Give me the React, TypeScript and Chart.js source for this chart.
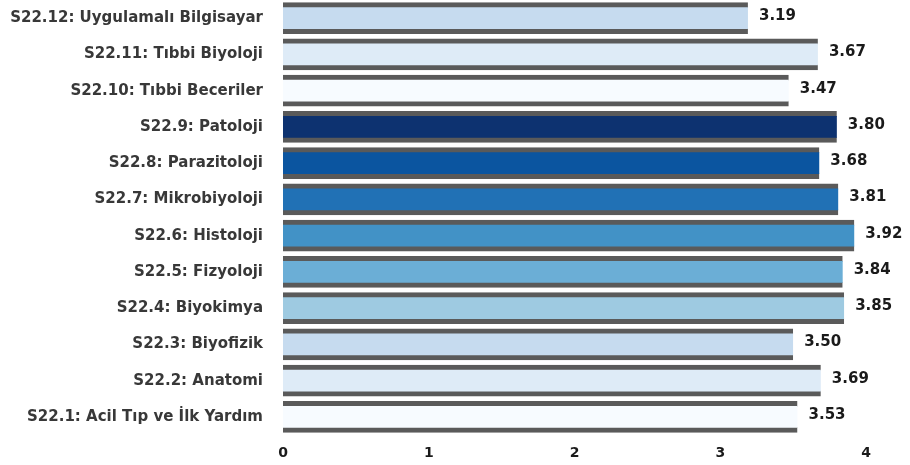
import React, { useEffect, useRef } from "react";
import { Chart, registerables } from "chart.js";

Chart.register(...registerables);

const categories = [
  "S22.12: Uygulamalı Bilgisayar",
  "S22.11: Tıbbi Biyoloji",
  "S22.10: Tıbbi Beceriler",
  "S22.9: Patoloji",
  "S22.8: Parazitoloji",
  "S22.7: Mikrobiyoloji",
  "S22.6: Histoloji",
  "S22.5: Fizyoloji",
  "S22.4: Biyokimya",
  "S22.3: Biyofizik",
  "S22.2: Anatomi",
  "S22.1: Acil Tıp ve İlk Yardım",
];

const values = [3.19, 3.67, 3.47, 3.8, 3.68, 3.81, 3.92, 3.84, 3.85, 3.5, 3.69, 3.53];

const barColors = [
  "#c6dbef",
  "#deebf7",
  "#f7fbff",
  "#0d3270",
  "#0b55a0",
  "#2171b5",
  "#4292c6",
  "#6baed6",
  "#9ecae1",
  "#c6dbef",
  "#deebf7",
  "#f7fbff",
];

const xTicks = [0, 1, 2, 3, 4];

const FONT = "'DejaVu Sans', sans-serif";

const valueLabelPlugin = {
  id: "valueLabels",
  afterDatasetsDraw(chart: any) {
    const ctx = chart.ctx;
    const meta = chart.getDatasetMeta(0);
    ctx.save();
    ctx.font = `bold 15px ${FONT}`;
    ctx.fillStyle = "#1a1a1a";
    ctx.textAlign = "left";
    ctx.textBaseline = "middle";
    meta.data.forEach((bar: any, i: number) => {
      ctx.fillText(values[i].toFixed(2), bar.x + 11, bar.y - 2);
    });
    ctx.restore();
  },
};

export default function App() {
  const canvasRef = useRef<HTMLCanvasElement | null>(null);

  useEffect(() => {
    document.body.style.margin = "0";
    const canvas = canvasRef.current;
    if (!canvas) return;
    const chart = new Chart(canvas, {
      type: "bar",
      data: {
        labels: categories,
        datasets: [
          {
            data: values,
            backgroundColor: barColors,
            borderColor: "#5a5a5a",
            borderWidth: { top: 5, bottom: 5, left: 0, right: 0 },
            borderSkipped: false,
            barThickness: 31,
          },
        ],
      },
      options: {
        indexAxis: "y",
        animation: false,
        responsive: false,
        maintainAspectRatio: false,
        layout: { padding: { top: 0, right: 44, bottom: 0, left: 0 } },
        plugins: {
          legend: { display: false },
          tooltip: { enabled: false },
        },
        scales: {
          x: {
            min: 0,
            max: 4,
            afterBuildTicks: (scale: any) => {
              scale.ticks = xTicks.map((v) => ({ value: v }));
            },
            afterFit: (scale: any) => {
              scale.height = 30;
              scale.paddingLeft = 0;
              scale.paddingRight = 0;
            },
            grid: { display: false, drawTicks: false },
            border: { display: false },
            ticks: {
              padding: 10,
              color: "#1a1a1a",
              font: { family: FONT, size: 14, weight: "bold" },
            },
          },
          y: {
            afterFit: (scale: any) => {
              scale.width = 283;
              scale.paddingTop = 0;
              scale.paddingBottom = 0;
            },
            grid: { display: false, drawTicks: false },
            border: { display: false },
            ticks: {
              padding: 20,
              color: "#383838",
              font: { family: FONT, size: 15, weight: "bold" },
            },
          },
        },
      },
      plugins: [valueLabelPlugin],
    } as any);
    return () => chart.destroy();
  }, []);

  return (
    <div style={{ width: 910, height: 465, background: "#ffffff" }}>
      <canvas ref={canvasRef} width={910} height={465} style={{ display: "block" }} />
    </div>
  );
}
